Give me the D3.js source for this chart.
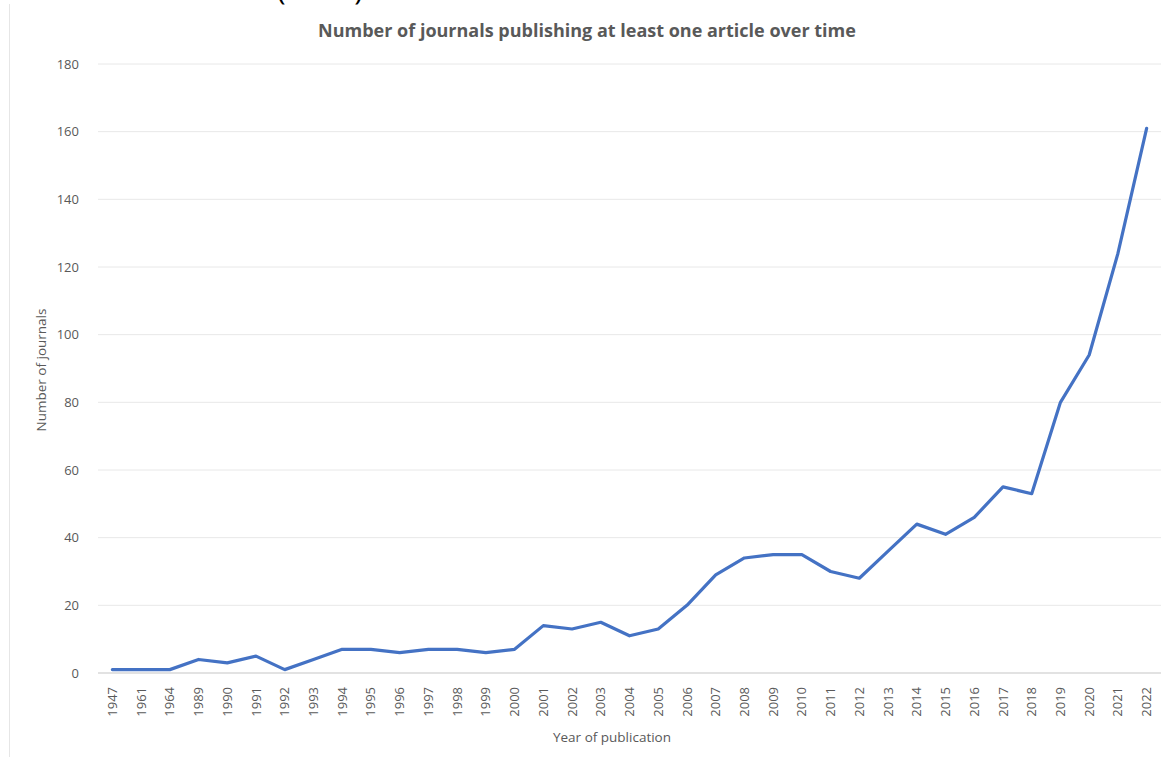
<!DOCTYPE html>
<html>
<head>
<meta charset="utf-8">
<script src="https://cdn.jsdelivr.net/npm/d3@7"></script>
<style>
  body { margin: 0; background: #fff; }
  text { font-family: "Open Sans", "Liberation Sans", sans-serif; fill: #595959; }
</style>
</head>
<body>
<div id="chart"></div>
<script>
const width = 1165;
const height = 761;

const years = ["1947", "1961", "1964", "1989", "1990", "1991", "1992", "1993", "1994", "1995",
  "1996", "1997", "1998", "1999", "2000", "2001", "2002", "2003", "2004", "2005",
  "2006", "2007", "2008", "2009", "2010", "2011", "2012", "2013", "2014", "2015",
  "2016", "2017", "2018", "2019", "2020", "2021", "2022"];
const journals = [1, 1, 1, 4, 3, 5, 1, 4, 7, 7,
  6, 7, 7, 6, 7, 14, 13, 15, 11, 13,
  20, 29, 34, 35, 35, 30, 28, 36, 44, 41,
  46, 55, 53, 80, 94, 124, 161];
const yTicks = [0, 20, 40, 60, 80, 100, 120, 140, 160, 180];

const margin = { top: 64, right: 4, bottom: 88, left: 98 };

const svg = d3.select("#chart")
  .append("svg")
  .attr("width", width)
  .attr("height", height);

// chart frame edge on the left
svg.append("line")
  .attr("x1", 9.5).attr("x2", 9.5)
  .attr("y1", 4).attr("y2", 757)
  .attr("stroke", "#e6e6e6");

// heading above the chart, mostly cut off by the crop
svg.append("text")
  .attr("x", 320)
  .attr("y", 0)
  .attr("text-anchor", "middle")
  .style("font-size", "30px")
  .style("fill", "#000")
  .text("(2023)");

const x = d3.scaleBand()
  .domain(years)
  .range([margin.left, width - margin.right]);

const y = d3.scaleLinear()
  .domain([0, 180])
  .range([height - margin.bottom, margin.top]);

svg.append("g")
  .attr("class", "grid")
  .selectAll("line")
  .data(yTicks)
  .enter()
  .append("line")
  .attr("x1", margin.left)
  .attr("x2", width - margin.right)
  .attr("y1", d => y(d))
  .attr("y2", d => y(d))
  .attr("stroke", d => d === 0 ? "#d9d9d9" : "#e8e8e8")
  .attr("stroke-width", d => d === 0 ? 1.5 : 1);

const yAxis = svg.append("g")
  .attr("transform", `translate(${margin.left - 16},0)`)
  .call(d3.axisLeft(y).tickValues(yTicks).tickSize(0));
yAxis.select(".domain").remove();
yAxis.selectAll("text").style("font-size", "13px").style("fill", "#595959");

const xAxis = svg.append("g")
  .attr("transform", `translate(0,${height - margin.bottom})`)
  .call(d3.axisBottom(x).tickSize(0));
xAxis.select(".domain").remove();
xAxis.selectAll("text")
  .style("font-size", "13px")
  .style("fill", "#595959")
  .attr("text-anchor", "end")
  .attr("transform", "rotate(-90)")
  .attr("x", -14)
  .attr("y", 0)
  .attr("dy", "0.35em");

const line = d3.line()
  .x((d, i) => x(years[i]) + x.bandwidth() / 2)
  .y(d => y(d));

svg.append("path")
  .datum(journals)
  .attr("d", line)
  .attr("fill", "none")
  .attr("stroke", "#4472C4")
  .attr("stroke-width", 3.2)
  .attr("stroke-linejoin", "round")
  .attr("stroke-linecap", "round");

svg.append("text")
  .attr("x", 587)
  .attr("y", 37)
  .attr("text-anchor", "middle")
  .style("font-size", "18px")
  .style("font-weight", "bold")
  .text("Number of journals publishing at least one article over time");

svg.append("text")
  .attr("x", 612)
  .attr("y", 742)
  .attr("text-anchor", "middle")
  .style("font-size", "13.5px")
  .text("Year of publication");

svg.append("text")
  .attr("transform", "translate(46,370) rotate(-90)")
  .attr("text-anchor", "middle")
  .style("font-size", "13.5px")
  .text("Number of journals");
</script>
</body>
</html>
